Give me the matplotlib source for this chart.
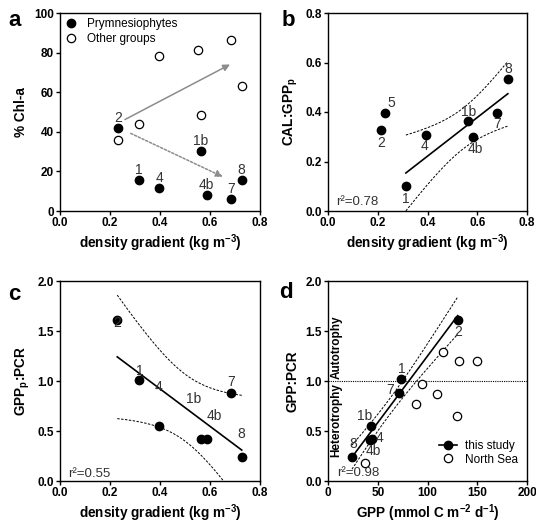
import numpy as np
import matplotlib
matplotlib.use('Agg')
import matplotlib.pyplot as plt
from matplotlib.lines import Line2D

plt.rcParams['font.family'] = ['Liberation Sans', 'DejaVu Sans']
plt.rcParams['mathtext.fontset'] = 'custom'
plt.rcParams['mathtext.rm'] = 'Liberation Sans'
plt.rcParams['mathtext.bf'] = 'Liberation Sans:bold'
plt.rcParams['mathtext.default'] = 'regular'

# ---------------- data ----------------
# panel a
a_labels = ['2', '1', '4', '1b', '4b', '7', '8']
a_density = [0.231, 0.317, 0.396, 0.564, 0.587, 0.684, 0.727]
a_prym = [42.0, 15.6, 11.4, 30.3, 8.1, 6.0, 15.6]
a_other_density = [0.231, 0.317, 0.396, 0.564, 0.551, 0.684, 0.727]
a_other = [35.8, 43.9, 78.2, 48.7, 81.2, 86.6, 63.2]
a_arrow_solid = [(0.26, 46.2), (0.68, 74.0)]
a_arrow_dotted = [(0.283, 39.2), (0.651, 17.3)]

# panel b
b_labels = ['2', '5', '1', '4', '1b', '4b', '7', '8']
b_density = [0.213, 0.229, 0.313, 0.392, 0.564, 0.584, 0.680, 0.723]
b_ratio = [0.327, 0.394, 0.101, 0.307, 0.364, 0.300, 0.394, 0.532]
b_in_fit = [False, False, True, True, True, True, True, True]

# panel c
c_labels = ['2', '1', '4', '1b', '4b', '7', '8']
c_density = [0.229, 0.317, 0.396, 0.564, 0.587, 0.683, 0.727]
c_ratio = [1.613, 1.007, 0.55, 0.423, 0.417, 0.883, 0.24]

# panel d
d_labels = ['8', '1b', '4', '4b', '7', '1', '2']
d_gpp = [24.1, 42.9, 44.5, 41.8, 71.4, 73.4, 130.3]
d_ratio = [0.243, 0.553, 0.42, 0.41, 0.877, 1.017, 1.61]
ns_gpp = [36.9, 88.1, 94.8, 109.8, 115.6, 130.0, 131.7, 150.0]
ns_ratio = [0.18, 0.773, 0.973, 0.873, 1.29, 0.65, 1.2, 1.2]

# label offsets (pixels, right/up)
a_off = [(0, 10)] * 7
b_off = [(0.7, -12.7), (6.0, 10), (0, -12.7), (-0.7, -11), (0.7, 8.7), (2.3, -12.3), (0, -11), (0, 10.7)]
c_off = [(0, -3.7), (0.5, 9.7), (-0.5, 39), (-7.2, 40), (7.5, 23), (0.5, 11), (-0.5, 22.7)]
d_off = [(1, 13), (-5.7, 9.7), (7, 0.7), (3.5, -11), (-9, 3.3), (0.7, 10), (0.6, -11.7)]

T975 = {4: 2.776, 5: 2.571}

W, H = 536, 523
fig = plt.figure(figsize=(W / 100, H / 100), dpi=100)


def make_ax(l, t, r, b):
    return fig.add_axes([l / W, 1 - b / H, (r - l) / W, (b - t) / H])


axA = make_ax(60, 13, 260, 211)
axB = make_ax(328, 13, 527, 211)
axC = make_ax(60, 281, 260, 481)
axD = make_ax(328, 281, 527, 481)

TICK_FS = 8.5
LAB_FS = 9.8
PT_FS = 10
MS = 6
XLPAD = 2


def style(ax):
    for s in ax.spines.values():
        s.set_linewidth(1.0)
    ax.tick_params(direction='out', length=3, width=1.0, labelsize=TICK_FS, pad=1.5)
    for lab in ax.get_xticklabels() + ax.get_yticklabels():
        lab.set_fontweight('bold')


def labels(ax, xs, ys, labs, offs):
    for x, y, t, (dx, dy) in zip(xs, ys, labs, offs):
        ax.annotate(t, (x, y), xytext=(dx * 0.72, dy * 0.72), textcoords='offset points',
                    ha='center', va='center', fontsize=PT_FS, color='#333333', zorder=5)


def fit_band(ax, x, y, lw=1.2):
    x = np.asarray(x, float)
    y = np.asarray(y, float)
    n = len(x)
    slope, inter = np.polyfit(x, y, 1)
    xs = np.linspace(x.min(), x.max(), 200)
    yh = inter + slope * xs
    res = y - (inter + slope * x)
    s = np.sqrt(np.sum(res ** 2) / (n - 2))
    sxx = np.sum((x - x.mean()) ** 2)
    se = s * np.sqrt(1.0 / n + (xs - x.mean()) ** 2 / sxx)
    t = T975[n - 2]
    ax.plot(xs, yh, color='k', lw=lw, zorder=2)
    ax.plot(xs, yh + t * se, color='k', lw=0.7, dashes=(2.5, 1.5), zorder=2)
    ax.plot(xs, yh - t * se, color='k', lw=0.7, dashes=(2.5, 1.5), zorder=2)


# ---------------- panel a ----------------
axA.plot(a_density, a_prym, 'o', color='k', ms=MS, label='Prymnesiophytes', zorder=3)
axA.plot(a_other_density, a_other, 'o', mfc='white', mec='k', mew=0.9, ms=MS,
         label='Other groups', zorder=3)
axA.annotate('', xy=a_arrow_solid[1], xytext=a_arrow_solid[0],
             arrowprops=dict(arrowstyle='-|>', color='#8c8c8c', lw=1.1,
                             mutation_scale=10, shrinkA=0, shrinkB=0))
axA.annotate('', xy=a_arrow_dotted[1], xytext=a_arrow_dotted[0],
             arrowprops=dict(arrowstyle='-|>', color='#8c8c8c', lw=1.1, linestyle=(0, (1.5, 1.2)),
                             mutation_scale=10, shrinkA=0, shrinkB=0))
labels(axA, a_density, a_prym, a_labels, a_off)
axA.set_xlim(0, 0.8)
axA.set_ylim(0, 100)
axA.set_xticks([0, 0.2, 0.4, 0.6, 0.8])
axA.set_xticklabels(['0.0', '0.2', '0.4', '0.6', '0.8'])
axA.set_yticks([0, 20, 40, 60, 80, 100])
axA.set_xlabel('density gradient (kg m$^{-3}$)', fontsize=LAB_FS, fontweight='bold', labelpad=XLPAD)
axA.set_ylabel('% Chl-a', fontsize=LAB_FS, fontweight='bold', labelpad=4)
axA.legend(loc='upper left', frameon=False, fontsize=8.5, handlelength=1.0, handletextpad=0.9,
           borderaxespad=0.2, labelspacing=0.3, borderpad=0.2)
style(axA)

# ---------------- panel b ----------------
axB.plot(b_density, b_ratio, 'o', color='k', ms=MS, zorder=3)
bx = [x for x, f in zip(b_density, b_in_fit) if f]
by = [y for y, f in zip(b_ratio, b_in_fit) if f]
fit_band(axB, bx, by)
labels(axB, b_density, b_ratio, b_labels, b_off)
axB.text(0.032, 0.035, 'r²=0.78', fontsize=9.5, color='#333333', ha='left', va='center')
axB.set_xlim(0, 0.8)
axB.set_ylim(0, 0.8)
axB.set_xticks([0, 0.2, 0.4, 0.6, 0.8])
axB.set_xticklabels(['0.0', '0.2', '0.4', '0.6', '0.8'])
axB.set_yticks([0, 0.2, 0.4, 0.6, 0.8])
axB.set_yticklabels(['0.0', '0.2', '0.4', '0.6', '0.8'])
axB.set_xlabel('density gradient (kg m$^{-3}$)', fontsize=LAB_FS, fontweight='bold', labelpad=XLPAD)
axB.set_ylabel('CAL:GPP$_p$', fontsize=LAB_FS, fontweight='bold', labelpad=4)
style(axB)

# ---------------- panel c ----------------
axC.plot(c_density, c_ratio, 'o', color='k', ms=MS, zorder=3)
fit_band(axC, c_density, c_ratio)
labels(axC, c_density, c_ratio, c_labels, c_off)
axC.text(0.033, 0.073, 'r²=0.55', fontsize=9.5, color='#333333', ha='left', va='center')
axC.set_xlim(0, 0.8)
axC.set_ylim(0, 2.0)
axC.set_xticks([0, 0.2, 0.4, 0.6, 0.8])
axC.set_xticklabels(['0.0', '0.2', '0.4', '0.6', '0.8'])
axC.set_yticks([0, 0.5, 1.0, 1.5, 2.0])
axC.set_yticklabels(['0.0', '0.5', '1.0', '1.5', '2.0'])
axC.set_xlabel('density gradient (kg m$^{-3}$)', fontsize=LAB_FS, fontweight='bold', labelpad=XLPAD)
axC.set_ylabel('GPP$_p$:PCR', fontsize=LAB_FS, fontweight='bold', labelpad=4)
style(axC)

# ---------------- panel d ----------------
axD.axhline(1.0, color='k', lw=0.8, ls=(0, (1, 1)), zorder=1)
fit_band(axD, d_gpp, d_ratio)
axD.plot(d_gpp, d_ratio, 'o', color='k', ms=MS, zorder=3)
axD.plot(ns_gpp, ns_ratio, 'o', mfc='white', mec='k', mew=0.9, ms=MS, zorder=3)
labels(axD, d_gpp, d_ratio, d_labels, d_off)
axD.text(8.5, 1.02, 'Autotrophy', rotation=90, fontsize=8.5, fontweight='bold',
         ha='center', va='bottom')
axD.text(8.5, 0.98, 'Heterotrophy', rotation=90, fontsize=8.5, fontweight='bold',
         ha='center', va='top')
axD.text(8.7, 0.077, 'r²=0.98', fontsize=9.5, color='#333333', ha='left', va='center')
axD.set_xlim(0, 200)
axD.set_ylim(0, 2.0)
axD.set_xticks([0, 50, 100, 150, 200])
axD.set_yticks([0, 0.5, 1.0, 1.5, 2.0])
axD.set_yticklabels(['0.0', '0.5', '1.0', '1.5', '2.0'])
axD.set_xlabel('GPP (mmol C m$^{-2}$ d$^{-1}$)', fontsize=LAB_FS, fontweight='bold', labelpad=XLPAD)
axD.set_ylabel('GPP:PCR', fontsize=LAB_FS, fontweight='bold', labelpad=4)
h1 = Line2D([], [], color='k', marker='o', ms=MS, lw=1.2)
h2 = Line2D([], [], color='k', marker='o', mfc='white', mew=0.9, ms=MS, lw=0)
axD.legend([h1, h2], ['this study', 'North Sea'], loc='lower right', frameon=False, fontsize=8.5,
           handlelength=1.6, handletextpad=0.6, borderaxespad=0.4, labelspacing=0.15,
           bbox_to_anchor=(1.0, 0.03))
style(axD)

# panel letters
for txt, (x, y) in zip(['a', 'b', 'c', 'd'], [(15, 20), (288, 20), (14, 295), (286, 292)]):
    fig.text(x / W, 1 - y / H, txt, fontsize=16, fontweight='bold', ha='center', va='center')

fig.savefig('out.png', dpi=100)
